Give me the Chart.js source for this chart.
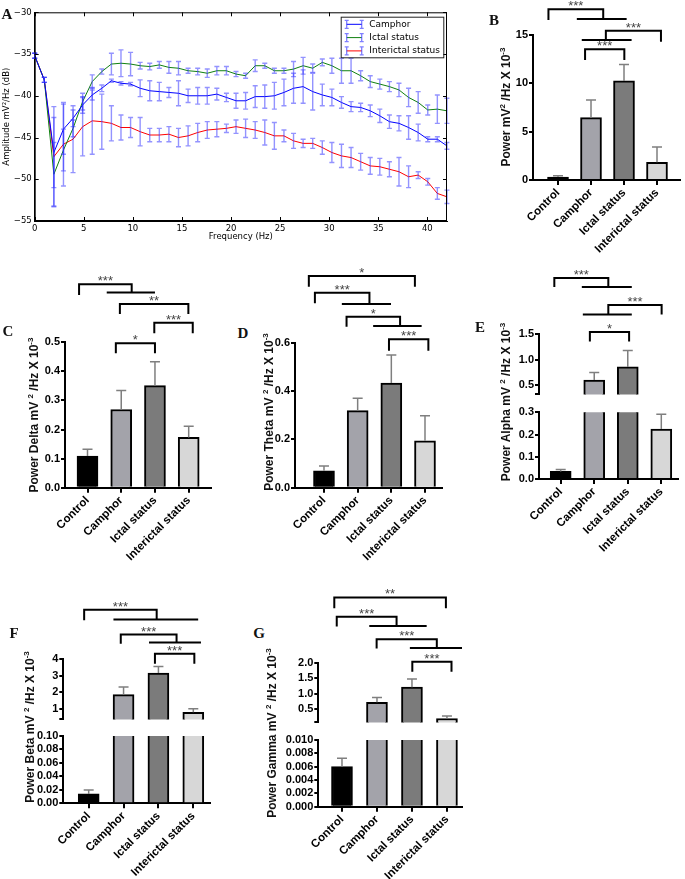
<!DOCTYPE html>
<html>
<head>
<meta charset="utf-8">
<script src="https://cdn.jsdelivr.net/npm/chart.js@4.4.0/dist/chart.umd.min.js"></script>
<style>
  html, body { margin: 0; padding: 0; background: #fff; }
  #fig { position: relative; width: 685px; height: 879px; overflow: hidden; }
  canvas { position: absolute; }
  .lbl { position: absolute; font: bold 15px "Liberation Serif", serif; transform: translate(-50%, -50%); color: #111; }
  .yt { position: absolute; white-space: nowrap; font: bold 12px "Liberation Sans", Arial, sans-serif; color: #111;
        transform: translate(-50%, -50%) rotate(-90deg); }
  .yt sup { font-size: 8px; }
</style>
</head>
<body>
<div id="fig">
  <canvas id="ampChart" width="460" height="245" style="left:0;top:0"></canvas>
  <canvas id="totalChart" width="187" height="270" style="left:498px;top:0"></canvas>
  <canvas id="deltaChart" width="185" height="313" style="left:30px;top:262px"></canvas>
  <canvas id="thetaChart" width="186" height="317" style="left:260px;top:258px"></canvas>
  <canvas id="alphaHi" width="181" height="150" style="left:504px;top:252px"></canvas>
  <canvas id="alphaLo" width="181" height="173" style="left:504px;top:402px"></canvas>
  <canvas id="betaHi" width="186" height="142" style="left:28px;top:585px"></canvas>
  <canvas id="betaLo" width="186" height="152" style="left:28px;top:727px"></canvas>
  <canvas id="gammaHi" width="185" height="155" style="left:283px;top:575px"></canvas>
  <canvas id="gammaLo" width="185" height="149" style="left:283px;top:730px"></canvas>

  <div class="lbl" style="left:7px;top:14px">A</div>
  <div class="lbl" style="left:494px;top:20px">B</div>
  <div class="lbl" style="left:8px;top:331px">C</div>
  <div class="lbl" style="left:243px;top:333px">D</div>
  <div class="lbl" style="left:480px;top:327px">E</div>
  <div class="lbl" style="left:14px;top:633px">F</div>
  <div class="lbl" style="left:259px;top:633px">G</div>

  <div class="yt" style="left:505px;top:107px">Power mV<sup>2</sup> /Hz X 10<sup>-3</sup></div>
  <div class="yt" style="left:33px;top:415px">Power Delta mV <sup>2</sup> /Hz X 10<sup>-3</sup></div>
  <div class="yt" style="left:268px;top:412px">Power Theta mV <sup>2</sup> /Hz X 10<sup>-3</sup></div>
  <div class="yt" style="left:505px;top:402px">Power Alpha mV <sup>2</sup> /Hz X 10<sup>-3</sup></div>
  <div class="yt" style="left:29px;top:727px">Power Beta mV <sup>2</sup> /Hz X 10<sup>-3</sup></div>
  <div class="yt" style="left:271px;top:733px">Power Gamma mV <sup>2</sup> /Hz X 10<sup>-3</sup></div>
</div>

<script>
/* --------- データ --------- */
const groups = ["Control", "Camphor", "Ictal status", "Interictal status"];
const seriesNames = ["Camphor", "Ictal status", "Interictal status"];

// A: spectrum (dB)
const freqHz = [0, 0.977, 1.953, 2.93, 3.906, 4.883, 5.859, 6.836, 7.813, 8.789,
  9.766, 10.742, 11.719, 12.695, 13.672, 14.648, 15.625, 16.602, 17.578, 18.555,
  19.531, 20.508, 21.484, 22.461, 23.438, 24.414, 25.391, 26.367, 27.344, 28.32,
  29.297, 30.273, 31.25, 32.227, 33.203, 34.18, 35.156, 36.133, 37.109, 38.086,
  39.063, 40.039, 41.016, 41.992];
const camphorDb = [-35.2, -38.1, -46.8, -44.0, -42.7, -41.1, -39.9, -39.1, -38.2, -38.5,
  -38.6, -39.1, -39.4, -39.5, -39.6, -39.7, -40.0, -40.0, -40.0, -39.8,
  -40.2, -40.6, -40.6, -40.1, -40.1, -40.0, -39.6, -39.1, -38.9, -39.5,
  -39.9, -40.2, -40.8, -41.3, -41.4, -41.8, -42.4, -43.1, -43.3, -43.8,
  -44.4, -45.2, -45.2, -46.0];
const ictalDb = [-35.2, -38.1, -49.4, -46.5, -43.9, -40.7, -38.3, -37.1, -36.2, -36.1,
  -36.2, -36.4, -36.5, -36.3, -36.6, -36.7, -37.0, -37.1, -37.3, -37.0,
  -37.0, -37.4, -37.6, -36.4, -36.4, -37.0, -37.0, -36.8, -36.4, -36.7,
  -36.0, -36.4, -37.0, -37.0, -37.6, -38.3, -38.6, -38.9, -39.3, -40.2,
  -40.8, -41.7, -41.6, -41.8];
const interictalDb = [-35.2, -38.1, -47.3, -45.8, -45.2, -43.7, -43.0, -43.1, -43.3, -43.8,
  -43.8, -44.3, -44.7, -44.7, -44.6, -45.0, -44.8, -44.4, -44.1, -44.0,
  -43.9, -43.7, -43.9, -44.1, -44.4, -44.8, -44.8, -45.4, -45.7, -45.7,
  -46.2, -46.8, -47.2, -47.4, -47.9, -48.4, -48.5, -48.8, -49.1, -49.7,
  -49.5, -50.3, -51.7, -52.1];
const camphorErrDb = [0.3, 0.3, 4.2, 3.0, 1.0, 1.0, 0.6, 0.4, 0.2, 0.2,
  0.2, 1.0, 1.2, 1.1, 0.6, 1.5, 0.8, 1.0, 1.0, 0.7,
  0.5, 0.9, 1.0, 1.3, 1.4, 1.6, 1.6, 1.8, 2.0, 2.2,
  1.3, 1.0, 0.7, 0.6, 0.5, 0.7, 0.8, 0.8, 0.9, 1.4,
  1.0, 0.3, 0.3, 0.4];
const ictalErrDb = [0.3, 0.3, 3.8, 2.5, 1.0, 1.0, 0.8, 0.3, 1.3, 1.6,
  1.4, 0.4, 0.4, 0.4, 0.7, 0.8, 0.3, 0.4, 0.5, 0.5,
  0.5, 0.3, 0.3, 0.7, 0.3, 0.3, 0.3, 0.9, 1.0, 0.5,
  0.4, 0.9, 1.5, 1.5, 0.6, 0.7, 0.6, 0.6, 0.8, 1.1,
  1.3, 0.6, 1.7, 1.5];
const interictalErrDb = [0.3, 0.3, 6.0, 5.0, 4.0, 3.5, 4.0, 3.3, 2.1, 1.5,
  1.2, 1.7, 0.8, 0.8, 0.9, 1.1, 1.2, 1.1, 1.0, 0.9,
  0.5, 0.8, 1.1, 1.0, 1.5, 1.6, 0.7, 0.9, 0.5, 0.6,
  0.8, 1.2, 1.4, 1.2, 1.0, 1.0, 1.0, 0.9, 1.7, 1.3,
  0.4, 0.4, 0.7, 0.8];
const freqTicks = [0, 5, 10, 15, 20, 25, 30, 35, 40];
const ampTicks = [-55, -50, -45, -40, -35, -30];

// B-G: band power (mV^2/Hz x 10^-3), mean and SEM
const totalPower = [0.30, 6.45, 10.25, 1.83];
const totalErr = [0.15, 1.83, 1.69, 1.58];
const deltaPower = [0.109, 0.269, 0.351, 0.173];
const deltaErr = [0.023, 0.065, 0.082, 0.038];
const thetaPower = [0.070, 0.319, 0.433, 0.194];
const thetaErr = [0.020, 0.051, 0.116, 0.104];
const alphaPower = [0.034, 0.60, 0.857, 0.225];
const alphaErr = [0.009, 0.15, 0.32, 0.066];
const betaPower = [0.0139, 1.85, 3.15, 0.78];
const betaErr = [0.0059, 0.46, 0.39, 0.22];
const gammaPower = [0.0060, 0.72, 1.21, 0.20];
const gammaErr = [0.00125, 0.16, 0.26, 0.08];

const totalTicks = [0, 5, 10, 15];
const deltaTicks = [0, 0.1, 0.2, 0.3, 0.4, 0.5];
const thetaTicks = [0, 0.2, 0.4, 0.6];
const alphaTicksHi = [0.5, 1.0, 1.5];
const alphaTicksLo = [0, 0.1, 0.2, 0.3];
const betaTicksHi = [1, 2, 3, 4];
const betaTicksLo = [0, 0.02, 0.04, 0.06, 0.08, 0.10];
const gammaTicksHi = [0.5, 1.0, 1.5, 2.0];
const gammaTicksLo = [0, 0.002, 0.004, 0.006, 0.008, 0.010];

// 有意差の括弧（x: 群インデックス, y: 値の単位）
const totalSig = [
  { label: "***", x1: -0.29, x2: 1.37, y: 17.66, y1: 16.55, y2: 16.65, g2: [0.57, 2.08] },
  { label: "***", x1: 1.45, x2: 3.12, y: 15.44, y1: 14.48, y2: 14.31, g1: [0.72, 2.23] },
  { label: "***", x1: 0.82, x2: 2.01, y: 13.52, y1: 12.41, y2: 12.41 },
];
const deltaSig = [
  { label: "***", x1: -0.25, x2: 1.31, y: 0.700, y1: 0.663, y2: 0.671, g2: [0.57, 2.0] },
  { label: "**", x1: 0.96, x2: 2.99, y: 0.632, y1: 0.597, y2: 0.597 },
  { label: "***", x1: 1.98, x2: 3.12, y: 0.567, y1: 0.531, y2: 0.531 },
  { label: "*", x1: 0.84, x2: 2.0, y: 0.497, y1: 0.462, y2: 0.462 },
];
const thetaSig = [
  { label: "*", x1: -0.45, x2: 2.70, y: 0.876, y1: 0.832, y2: 0.832 },
  { label: "***", x1: -0.27, x2: 1.35, y: 0.807, y1: 0.763, y2: 0.760, g2: [0.53, 1.99] },
  { label: "*", x1: 0.67, x2: 2.26, y: 0.707, y1: 0.666, y2: 0.669, g2: [1.46, 2.90] },
  { label: "***", x1: 1.93, x2: 3.10, y: 0.614, y1: 0.567, y2: 0.567 },
];
const alphaSig = [
  { label: "***", x1: -0.19, x2: 1.42, y: 2.595, y1: 2.416, y2: 2.416, g2: [0.63, 2.12] },
  { label: "***", x1: 1.42, x2: 3.01, y: 2.066, y1: 1.880, y2: 1.880, g1: [0.66, 2.12] },
  { label: "*", x1: 0.87, x2: 2.04, y: 1.541, y1: 1.352, y2: 1.352 },
];
const betaSig = [
  { label: "***", x1: -0.13, x2: 1.95, y: 6.98, y1: 6.34, y2: 6.39, g2: [0.71, 3.14] },
  { label: "***", x1: 0.92, x2: 2.52, y: 5.475, y1: 4.92, y2: 4.99, g2: [1.73, 3.22] },
  { label: "***", x1: 1.90, x2: 3.03, y: 4.315, y1: 3.72, y2: 3.72 },
];
const gammaSig = [
  { label: "**", x1: -0.22, x2: 2.97, y: 4.105, y1: 3.761, y2: 3.761 },
  { label: "***", x1: -0.15, x2: 1.56, y: 3.483, y1: 3.168, y2: 3.186, g2: [0.78, 2.42] },
  { label: "***", x1: 0.99, x2: 2.71, y: 2.753, y1: 2.457, y2: 2.475, g2: [1.94, 3.43] },
  { label: "***", x1: 2.01, x2: 3.13, y: 2.03, y1: 1.704, y2: 1.704 },
];

/* --------- スタイル --------- */
const barColors = ["#000000", "#a3a3aa", "#7b7b7b", "#d7d7d7"];
const sans = "'Liberation Sans', Arial, sans-serif";
const mpl = "'DejaVu Sans', sans-serif";
Chart.defaults.font.family = sans;
Chart.defaults.color = "#000";

/* --------- プラグイン --------- */
const ampExtras = {
  id: "ampExtras",
  afterDatasetsDraw(chart) {
    const { ctx, scales: { y } } = chart;
    const errs = [camphorErrDb, ictalErrDb, interictalErrDb];
    ctx.save();
    ctx.strokeStyle = "rgba(40,40,255,0.5)";
    ctx.lineWidth = 1.4;
    chart.data.datasets.forEach((ds, k) => {
      chart.getDatasetMeta(k).data.forEach((pt, i) => {
        const v = ds.data[i].y, e = errs[k][i];
        const t = y.getPixelForValue(v + e), b = y.getPixelForValue(v - e);
        ctx.beginPath();
        ctx.moveTo(pt.x, t); ctx.lineTo(pt.x, b);
        ctx.moveTo(pt.x - 2.5, t); ctx.lineTo(pt.x + 2.5, t);
        ctx.moveTo(pt.x - 2.5, b); ctx.lineTo(pt.x + 2.5, b);
        ctx.stroke();
      });
    });
    ctx.restore();
  },
  afterDraw(chart) {
    const { ctx, chartArea: a, scales: { x, y } } = chart;
    ctx.save();
    ctx.strokeStyle = "#000";
    ctx.lineWidth = 1;
    ctx.strokeRect(a.left + 0.5, a.top + 0.5, a.right - a.left - 1, a.bottom - a.top - 1);
    ctx.beginPath();
    x.ticks.forEach((t) => {
      const px = Math.round(x.getPixelForValue(t.value)) + 0.5;
      ctx.moveTo(px, a.bottom); ctx.lineTo(px, a.bottom - 4);
      ctx.moveTo(px, a.top); ctx.lineTo(px, a.top + 4);
    });
    y.ticks.forEach((t) => {
      const py = Math.round(y.getPixelForValue(t.value)) + 0.5;
      ctx.moveTo(a.left, py); ctx.lineTo(a.left + 4, py);
      ctx.moveTo(a.right, py); ctx.lineTo(a.right - 4, py);
    });
    ctx.stroke();

    // 凡例
    const bw = 102.6, bh = 40.6;
    const bx = a.right - 3.7 - bw, by = a.top + 4.4;
    ctx.fillStyle = "#fff";
    ctx.fillRect(bx, by, bw, bh);
    ctx.strokeStyle = "#222";
    ctx.strokeRect(bx + 0.5, by + 0.5, bw, bh);
    ctx.font = "9px " + mpl;
    ctx.textBaseline = "middle";
    chart.data.datasets.forEach((ds, k) => {
      const ly = by + 7.6 + k * 13.3;
      const x0 = bx + 6, x1 = bx + 21;
      ctx.strokeStyle = ds.borderColor;
      ctx.lineWidth = 1;
      ctx.beginPath(); ctx.moveTo(x0, ly); ctx.lineTo(x1, ly); ctx.stroke();
      ctx.strokeStyle = "rgba(40,40,255,0.6)";
      ctx.lineWidth = 1.3;
      ctx.beginPath();
      [x0, x1].forEach((px) => {
        ctx.moveTo(px, ly - 4); ctx.lineTo(px, ly + 4);
        ctx.moveTo(px - 2, ly - 4); ctx.lineTo(px + 2, ly - 4);
        ctx.moveTo(px - 2, ly + 4); ctx.lineTo(px + 2, ly + 4);
      });
      ctx.stroke();
      ctx.fillStyle = "#000";
      ctx.fillText(ds.label, bx + 28.6, ly);
    });
    ctx.restore();
  },
};

function errorBars() {
  return {
    id: "errorBars",
    afterDatasetsDraw(chart) {
      const { ctx, chartArea: a, scales: { y } } = chart;
      const ds = chart.data.datasets[0];
      ctx.save();
      ctx.beginPath();
      ctx.rect(a.left, a.top - 1, a.right - a.left, a.bottom - a.top + 1);
      ctx.clip();
      ctx.strokeStyle = "#7f7f7f";
      ctx.lineWidth = 1.5;
      chart.getDatasetMeta(0).data.forEach((bar, i) => {
        const top = y.getPixelForValue(ds.data[i].y + ds.errs[i]);
        ctx.beginPath();
        ctx.moveTo(bar.x, bar.y); ctx.lineTo(bar.x, top);
        ctx.moveTo(bar.x - 5, top); ctx.lineTo(bar.x + 5, top);
        ctx.stroke();
      });
      ctx.restore();
    },
  };
}

function sigBrackets(list) {
  return {
    id: "sigBrackets",
    afterDraw(chart) {
      const { ctx, scales: { x, y } } = chart;
      const px = (v) => x.getPixelForValue(v);
      const py = (v) => y.getPixelForValue(v);
      ctx.save();
      ctx.strokeStyle = "#000";
      ctx.lineWidth = 2;
      ctx.fillStyle = "#444";
      ctx.font = "13px " + sans;
      ctx.textAlign = "center";
      ctx.textBaseline = "alphabetic";
      list.forEach((s) => {
        ctx.beginPath();
        ctx.moveTo(px(s.x1), py(s.y1));
        ctx.lineTo(px(s.x1), py(s.y));
        ctx.lineTo(px(s.x2), py(s.y));
        ctx.lineTo(px(s.x2), py(s.y2));
        if (s.g1) { ctx.moveTo(px(s.g1[0]), py(s.y1)); ctx.lineTo(px(s.g1[1]), py(s.y1)); }
        if (s.g2) { ctx.moveTo(px(s.g2[0]), py(s.y2)); ctx.lineTo(px(s.g2[1]), py(s.y2)); }
        ctx.stroke();
        ctx.fillText(s.label, px((s.x1 + s.x2) / 2), py(s.y) + 1);
      });
      ctx.restore();
    },
  };
}

/* --------- グラフ描画 --------- */
function makeSeries(label, vals, color) {
  return {
    label,
    data: freqHz.map((f, i) => ({ x: f, y: vals[i] })),
    borderColor: color,
    borderWidth: 1,
    pointRadius: 0,
    tension: 0,
    fill: false,
  };
}

new Chart(document.getElementById("ampChart"), {
  type: "line",
  data: {
    datasets: [
      makeSeries(seriesNames[0], camphorDb, "#0000ff"),
      makeSeries(seriesNames[1], ictalDb, "#108010"),
      makeSeries(seriesNames[2], interictalDb, "#ff0000"),
    ],
  },
  options: {
    responsive: false,
    animation: false,
    layout: { padding: { top: 12.3, right: 13, left: 0, bottom: 0 } },
    plugins: { legend: { display: false }, tooltip: { enabled: false } },
    scales: {
      x: {
        type: "linear", min: 0, max: 42,
        afterBuildTicks: (s) => { s.ticks = freqTicks.map((v) => ({ value: v })); },
        afterFit: (s) => { s.height = 24; },
        grid: { display: false, drawTicks: false },
        border: { display: true, color: "#000", width: 1 },
        ticks: { padding: 3, font: { family: mpl, size: 8.5 } },
        title: { display: true, text: "Frequency (Hz)", font: { family: mpl, size: 8.5 }, padding: { top: 0, bottom: 3 } },
      },
      y: {
        type: "linear", min: -55, max: -30,
        afterBuildTicks: (s) => { s.ticks = ampTicks.map((v) => ({ value: v })); },
        afterFit: (s) => { s.width = 34.7; },
        grid: { display: false, drawTicks: false },
        border: { display: true, color: "#000", width: 1 },
        ticks: { padding: 3, font: { family: mpl, size: 8.5 }, callback: (v) => (v < 0 ? "\u2212" + Math.abs(v) : String(v)) },
        title: { display: true, text: "Amplitude mV\u00b2/Hz (dB)", font: { family: mpl, size: 8.5 }, padding: { top: 2, bottom: 0 } },
      },
    },
  },
  plugins: [ampExtras],
});

function barChart(id, o) {
  return new Chart(document.getElementById(id), {
    type: "bar",
    data: {
      datasets: [{
        data: o.values.map((v, i) => ({ x: i, y: v })),
        errs: o.errs,
        backgroundColor: barColors,
        borderColor: "#000",
        borderWidth: 2,
        borderSkipped: "start",
        barThickness: 21,
      }],
    },
    options: {
      responsive: false,
      animation: false,
      layout: { padding: { top: o.padTop, right: o.padRight, bottom: o.padBottom || 0, left: 0 } },
      plugins: { legend: { display: false }, tooltip: { enabled: false } },
      scales: {
        x: {
          type: "linear", min: o.xMin, max: o.xMax, offset: false, display: o.showX,
          afterBuildTicks: (s) => { s.ticks = groups.map((g, i) => ({ value: i })); },
          afterFit: (s) => { s.height = o.xHeight || 0; },
          grid: { offset: false, drawOnChartArea: false, drawTicks: true, tickLength: 5, color: "#000", lineWidth: 2 },
          border: { color: "#000", width: 2 },
          ticks: {
            callback: (v) => groups[v],
            minRotation: 45, maxRotation: 45, autoSkip: false, padding: 1,
            font: { size: 11.5, weight: "bold" },
          },
        },
        y: {
          type: "linear", min: o.yMin, max: o.yMax,
          afterBuildTicks: (s) => {
            s.ticks = o.ticks.map((v) => ({ value: v }));
            if (o.endTick) s.ticks.unshift({ value: o.yMin });
          },
          afterFit: (s) => { s.width = o.yWidth; },
          grid: { drawOnChartArea: false, drawTicks: true, tickLength: 4, color: "#000", lineWidth: 2 },
          border: { color: "#000", width: 2 },
          ticks: {
            padding: 1,
            autoSkip: false,
            font: { size: 11, weight: "bold" },
            callback: (v) => (o.ticks.includes(v) ? v.toFixed(o.dec) : ""),
          },
        },
      },
    },
    plugins: [errorBars(), sigBrackets(o.sig || [])],
  });
}

window.addEventListener("DOMContentLoaded", () => {
  barChart("totalChart", {
    values: totalPower, errs: totalErr, sig: totalSig, ticks: totalTicks, dec: 0,
    yMin: 0, yMax: 15, xMin: -0.758, xMax: 3.697, showX: true,
    yWidth: 35, padTop: 35, padRight: 5, xHeight: 90,
  });
  barChart("deltaChart", {
    values: deltaPower, errs: deltaErr, sig: deltaSig, ticks: deltaTicks, dec: 1,
    yMin: 0, yMax: 0.5, xMin: -0.667, xMax: 3.661, showX: true,
    yWidth: 35, padTop: 80.3, padRight: 4, xHeight: 87.3,
  });
  barChart("thetaChart", {
    values: thetaPower, errs: thetaErr, sig: thetaSig, ticks: thetaTicks, dec: 1,
    yMin: 0, yMax: 0.6, xMin: -0.861, xMax: 3.496, showX: true,
    yWidth: 35, padTop: 84.7, padRight: 4.3, xHeight: 87.3,
  });
  // 軸の途中省略（上下2段）
  barChart("alphaHi", {
    values: alphaPower, errs: alphaErr, sig: alphaSig, ticks: alphaTicksHi, dec: 1, endTick: true,
    yMin: 0.32, yMax: 1.5, xMin: -0.647, xMax: 3.498, showX: false,
    yWidth: 35, padTop: 82, padRight: 7, padBottom: 2,
  });
  barChart("alphaLo", {
    values: alphaPower, errs: alphaErr, ticks: alphaTicksLo, dec: 1,
    yMin: 0, yMax: 0.3, xMin: -0.647, xMax: 3.498, showX: true,
    yWidth: 35, padTop: 10.3, padRight: 7, xHeight: 96,
  });
  barChart("betaHi", {
    values: betaPower, errs: betaErr, sig: betaSig, ticks: betaTicksHi, dec: 0, endTick: true,
    yMin: 0.354, yMax: 4, xMin: -0.728, xMax: 3.479, showX: false,
    yWidth: 35.3, padTop: 74, padRight: 4, padBottom: 2,
  });
  barChart("betaLo", {
    values: betaPower, errs: betaErr, ticks: betaTicksLo, dec: 2,
    yMin: 0, yMax: 0.1, xMin: -0.728, xMax: 3.479, showX: true,
    yWidth: 35.3, padTop: 9, padRight: 4, xHeight: 75.7,
  });
  barChart("gammaHi", {
    values: gammaPower, errs: gammaErr, sig: gammaSig, ticks: gammaTicksHi, dec: 1, endTick: true,
    yMin: 0.073, yMax: 2.0, xMin: -0.677, xMax: 3.43, showX: false,
    yWidth: 35.3, padTop: 87.7, padRight: 6, padBottom: 2.3,
  });
  barChart("gammaLo", {
    values: gammaPower, errs: gammaErr, ticks: gammaTicksLo, dec: 3,
    yMin: 0, yMax: 0.01, xMin: -0.677, xMax: 3.43, showX: true,
    yWidth: 35.3, padTop: 10, padRight: 6, xHeight: 72.3,
  });
});
</script>
</body>
</html>
